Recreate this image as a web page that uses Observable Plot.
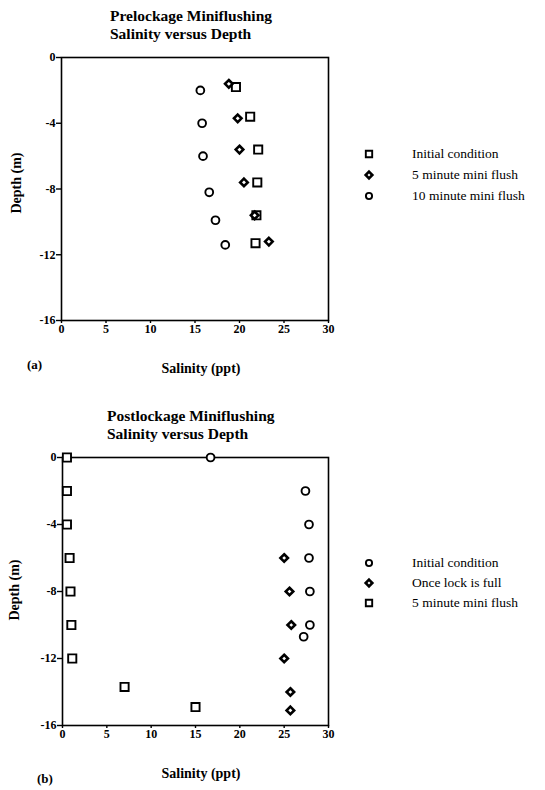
<!DOCTYPE html>
<html>
<head>
<meta charset="utf-8">
<script src="https://cdn.jsdelivr.net/npm/d3@7"></script>
<script src="https://cdn.jsdelivr.net/npm/@observablehq/plot@0.6"></script>
<style>
  body { margin: 0; background: #fff; }
  #root { position: relative; width: 545px; height: 790px; font-family: "Liberation Serif", "Times New Roman", "DejaVu Serif", serif; color: #000; }
  .abs { position: absolute; white-space: nowrap; }
  .title { font-weight: bold; font-size: 15.5px; line-height: 18px; }
  .xlab { font-size: 14px; font-weight: bold; transform: translateX(-50%); }
  .ylab { font-size: 14px; font-weight: bold; transform: translate(-50%, -50%) rotate(-90deg); }
  .panel { font-size: 13px; font-weight: bold; }
  .leg { font-size: 13.5px; }
</style>
</head>
<body>
<div id="root"></div>
<script>
// ---------- data ----------
const xTicks = [0, 5, 10, 15, 20, 25, 30];
const yTicks = [0, -4, -8, -12, -16];

// (a) Prelockage
const preInitialSal   = [19.6, 21.2, 22.1, 22.0, 21.9, 21.8];
const preInitialDepth = [-1.8, -3.6, -5.6, -7.6, -9.6, -11.3];
const preFlush5Sal    = [18.8, 19.8, 20.0, 20.5, 21.7, 23.3];
const preFlush5Depth  = [-1.6, -3.7, -5.6, -7.6, -9.6, -11.2];
const preFlush10Sal   = [15.6, 15.8, 15.9, 16.6, 17.3, 18.4];
const preFlush10Depth = [-2.0, -4.0, -6.0, -8.2, -9.9, -11.4];

// (b) Postlockage
const postInitialSal   = [16.7, 27.4, 27.8, 27.8, 27.9, 27.9, 27.2];
const postInitialDepth = [0, -2, -4, -6, -8, -10, -10.7];
const postFullSal      = [25.0, 25.6, 25.8, 25.0, 25.7, 25.7];
const postFullDepth    = [-6, -8, -10, -12, -14, -15.1];
const postFlush5Sal    = [0.5, 0.5, 0.5, 0.8, 0.9, 1.0, 1.1, 7.0, 15.0];
const postFlush5Depth  = [0, -2, -4, -6, -8, -10, -12, -13.7, -14.9];

const preLabels  = ["Initial condition", "5 minute mini flush", "10 minute mini flush"];
const postLabels = ["Initial condition", "Once lock is full", "5 minute mini flush"];

const symStyle = {
  square:   {symbol: "square", r: 4.6, strokeWidth: 1.9},
  diamond2: {symbol: "diamond2", r: 3.4, strokeWidth: 2.6},
  circle:   {symbol: "circle", r: 3.9, strokeWidth: 1.9}
};

const toRows = (xs, ys) => xs.map((x, i) => ({x, y: ys[i]}));
const axisFont = {fontFamily: "'Liberation Serif', 'Times New Roman', serif", fontSize: 12, fontWeight: "bold"};

function scatter(series, opts) {
  return Plot.plot({
    width: 340,
    height: opts.height,
    marginTop: opts.marginTop,
    marginLeft: opts.marginLeft,
    marginRight: opts.marginRight,
    marginBottom: opts.marginBottom,
    style: {fontFamily: "'Liberation Serif', 'Times New Roman', serif", fontSize: "12px", fontWeight: "bold", background: "transparent", color: "#000"},
    x: {domain: [0, 30]},
    y: {domain: [-16, 0]},
    marks: [
      Plot.frame({stroke: "#000", strokeWidth: 1.6}),
      Plot.axisX({ticks: xTicks, tickSize: 3, tickPadding: 1, tickFormat: d => String(d), label: null, strokeWidth: 1.4, ...axisFont}),
      Plot.axisY({ticks: yTicks, tickSize: 5, tickPadding: 1, tickFormat: d => String(d), label: null, strokeWidth: 1.4, ...axisFont}),
      ...series.map(s => Plot.dot(toRows(s.x, s.y), {
        x: "x", y: "y", fill: "#fff", stroke: "#000", ...symStyle[s.sym]
      }))
    ]
  });
}

function legend(items, labels, left, top, gap) {
  const div = document.createElement("div");
  div.className = "abs";
  div.style.left = left + "px";
  div.style.top = top + "px";
  const svgNS = "http://www.w3.org/2000/svg";
  items.forEach((sym, i) => {
    const row = document.createElement("div");
    row.style.position = "absolute";
    row.style.top = (i * gap) + "px";
    row.style.left = "0px";
    row.style.display = "flex";
    row.style.alignItems = "center";
    row.style.height = "16px";
    const svg = document.createElementNS(svgNS, "svg");
    svg.setAttribute("width", 16); svg.setAttribute("height", 16);
    const p = document.createElementNS(svgNS, "path");
    const st = {square: [d3.symbolSquare, 3.6, 1.9], diamond2: [d3.symbolDiamond2, 3.0, 2.6], circle: [d3.symbolCircle, 3.1, 1.9]}[sym];
    p.setAttribute("d", d3.symbol(st[0], Math.PI * st[1] * st[1])());
    p.setAttribute("transform", "translate(8,8)");
    p.setAttribute("fill", "#fff"); p.setAttribute("stroke", "#000"); p.setAttribute("stroke-width", st[2]);
    svg.appendChild(p);
    row.appendChild(svg);
    const t = document.createElement("span");
    t.className = "leg";
    t.style.marginLeft = "35px";
    t.textContent = labels[i];
    row.appendChild(t);
    div.appendChild(row);
  });
  return div;
}

const root = document.getElementById("root");
function place(el, left, top) { el.style.position = "absolute"; el.style.left = left + "px"; el.style.top = top + "px"; root.appendChild(el); return el; }
function text(cls, html, left, top) { const d = document.createElement("div"); d.className = "abs " + cls; d.innerHTML = html; d.style.left = left + "px"; d.style.top = top + "px"; root.appendChild(d); return d; }

// Panel (a)
place(scatter([
  {x: preInitialSal, y: preInitialDepth, sym: "square"},
  {x: preFlush5Sal, y: preFlush5Depth, sym: "diamond2"},
  {x: preFlush10Sal, y: preFlush10Depth, sym: "circle"}
], {height: 380, marginTop: 57, marginLeft: 61, marginRight: 12, marginBottom: 60}), 0, 0);
text("title", "Prelockage Miniflushing<br>Salinity versus Depth", 110, 7);
text("ylab", "Depth (m)", 17, 183);
text("xlab", "Salinity (ppt)", 201, 361);
text("panel", "(a)", 27, 357);
root.appendChild(legend(["square", "diamond2", "circle"], preLabels, 361, 146, 21));

// Panel (b)
place(scatter([
  {x: postInitialSal, y: postInitialDepth, sym: "circle"},
  {x: postFullSal, y: postFullDepth, sym: "diamond2"},
  {x: postFlush5Sal, y: postFlush5Depth, sym: "square"}
], {height: 390, marginTop: 57, marginLeft: 62, marginRight: 12, marginBottom: 65}), 0, 400);
text("title", "Postlockage Miniflushing<br>Salinity versus Depth", 107, 407);
text("ylab", "Depth (m)", 15, 590);
text("xlab", "Salinity (ppt)", 201, 766);
text("panel", "(b)", 37, 771);
root.appendChild(legend(["circle", "diamond2", "square"], postLabels, 361, 555, 20));
</script>
</body>
</html>
